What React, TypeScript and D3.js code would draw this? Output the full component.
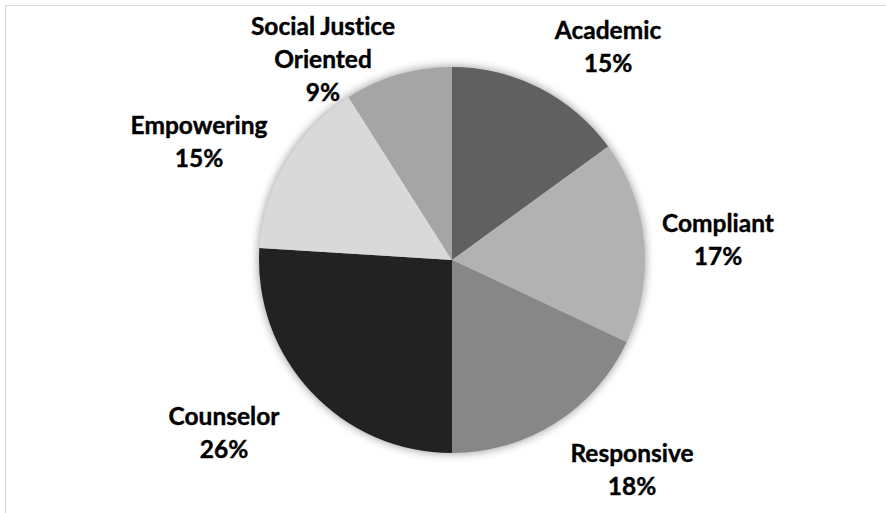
import React from "react";
import * as d3 from "d3";

const categories = ["Academic", "Compliant", "Responsive", "Counselor", "Empowering", "Social Justice Oriented"];
const values = [15, 17, 18, 26, 15, 9];
const colors = ["#606060", "#b2b2b2", "#878787", "#222222", "#d9d9d9", "#a5a5a5"];
const labelLines = [["Academic"], ["Compliant"], ["Responsive"], ["Counselor"], ["Empowering"], ["Social Justice", "Oriented"]];
// label centre offsets from pie centre (layout only)
const labelOffsets: [number, number][] = [
  [156, -214],
  [266, -21],
  [180, 209],
  [-228, 172],
  [-253, -119],
  [-129, -202],
];

const W = 886;
const H = 513;
const cx = 452;
const cy = 260;
const R = 193;
const lineH = 33;

export default function App() {
  const pie = d3.pie<number>().sort(null).value((d) => d);
  const arcs = pie(values);
  const arc = d3.arc<d3.PieArcDatum<number>>().innerRadius(0).outerRadius(R);
  const total = d3.sum(values);
  return (
    <svg width={W} height={H} style={{ position: "absolute", left: 0, top: 0 }}>
      <defs>
        <filter id="glow" x="-20%" y="-20%" width="140%" height="140%">
          <feGaussianBlur stdDeviation="4" />
        </filter>
      </defs>
      <rect x={0} y={0} width={W} height={H} fill="#fff" />
      <rect x={5.5} y={5.5} width={W + 20} height={H + 20} fill="none" stroke="#d9d9d9" strokeWidth={1} />
      <g transform={`translate(${cx},${cy})`}>
        <circle r={R + 1} fill="#000" opacity={0.35} filter="url(#glow)" />
        {arcs.map((a, i) => (
          <path key={i} d={arc(a) || ""} fill={colors[i]} />
        ))}
        {arcs.map((a, i) => {
          const lines = [...labelLines[i], `${Math.round((values[i] / total) * 100)}%`];
          const [dx, dy] = labelOffsets[i];
          const y0 = dy - ((lines.length - 1) * lineH) / 2;
          return (
            <text
              key={"t" + i}
              x={dx}
              textAnchor="middle"
              fontFamily="Lato, 'Open Sans', sans-serif"
              fontWeight="bold"
              fontSize={24.5}
              fill="#000"
              style={{ fontVariantLigatures: "none", stroke: "#000", strokeWidth: 0.4 }}
            >
              {lines.map((l, j) => (
                <tspan key={j} x={dx} y={y0 + j * lineH} dominantBaseline="central">
                  {l}
                </tspan>
              ))}
            </text>
          );
        })}
      </g>
    </svg>
  );
}
